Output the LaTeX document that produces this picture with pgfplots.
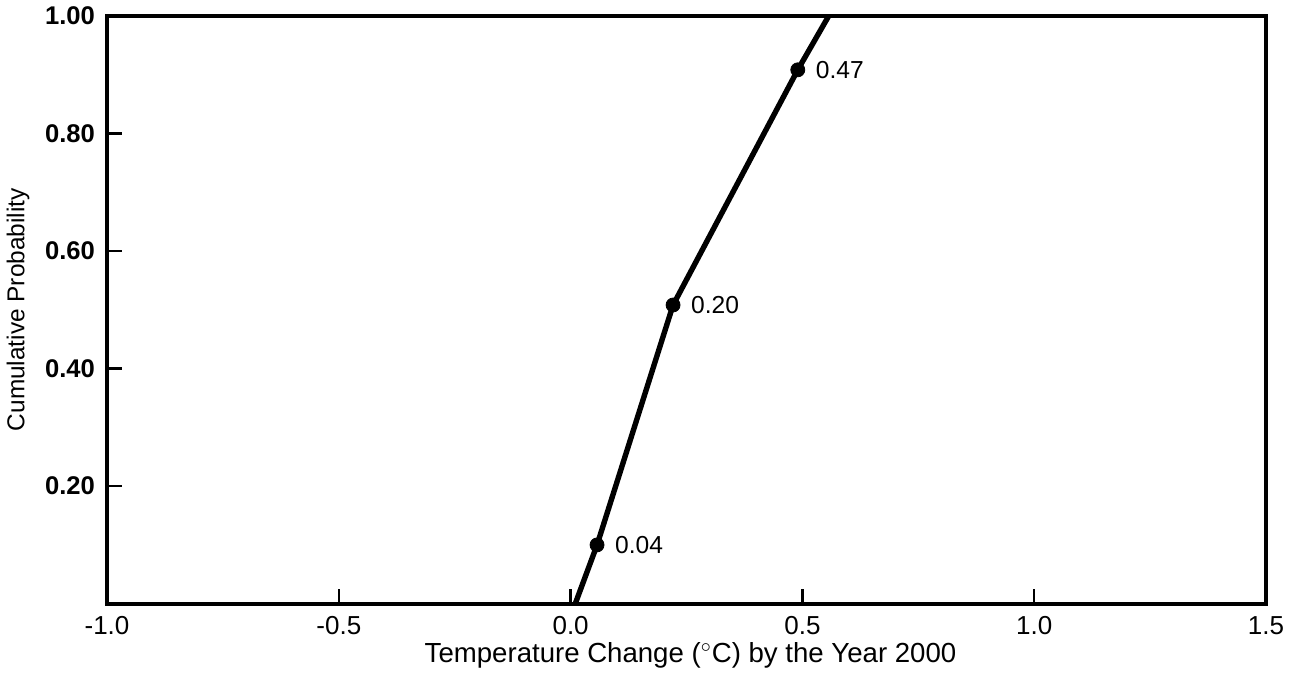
\documentclass[border=0pt]{standalone}
\usepackage{pgfplots}
\pgfplotsset{compat=1.18}
\usepackage{fontspec}
\setmainfont{Liberation Sans}
\begin{document}
\begin{tikzpicture}
\begin{axis}[
  scale only axis,
  width=579.5pt, height=294pt,
  xmin=-1, xmax=1.5, ymin=0, ymax=1,
  axis line style={line width=1.8pt},
  xtick={-1,-0.5,0,0.5,1,1.5},
  ytick={0.2,0.4,0.6,0.8,1.0},
  xticklabels={-1.0,-0.5,0.0,0.5,1.0,1.5},
  yticklabels={\textbf{0.20},\textbf{0.40},\textbf{0.60},\textbf{0.80},\textbf{1.00}},
  tick align=inside,
  xtick pos=bottom, ytick pos=left,
  major tick length=7.5pt,
  tick style={line width=1.2pt, black},
  x tick label style={font=\fontsize{13}{14}\selectfont, yshift=-3pt},
  y tick label style={font=\fontsize{12.8}{14}\selectfont, xshift=-2.5pt},
  xlabel={Temperature Change ($^\circ$C) by the Year 2000},
  ylabel={Cumulative Probability},
  xlabel style={font=\fontsize{13.8}{15}\selectfont, at={(axis description cs:0.5,0)}, anchor=base, yshift=-29.5pt, xshift=2pt},
  ylabel style={font=\fontsize{12.2}{14}\selectfont, yshift=1pt},
  clip=false,
]
\addplot[black, line width=2.7pt, no markers] coordinates {
  (0.010,0) (0.057,0.10) (0.221,0.508) (0.490,0.908) (0.557,1.0)
};
\addplot[only marks, mark=*, mark size=3.5pt, black,
  point meta=explicit symbolic,
  nodes near coords,
  nodes near coords style={anchor=west, xshift=5.5pt, yshift=0pt, font=\fontsize{12.3}{14}\selectfont, text=black},
] table[meta=lab] {
x y lab
0.057 0.10 0.04
0.221 0.508 0.20
0.490 0.908 0.47
};
\end{axis}
\path[use as bounding box] ([shift={(-53.5pt,-32.5pt)}]current axis.south west) rectangle ([shift={(15pt,7.5pt)}]current axis.north east);
\end{tikzpicture}
\end{document}
